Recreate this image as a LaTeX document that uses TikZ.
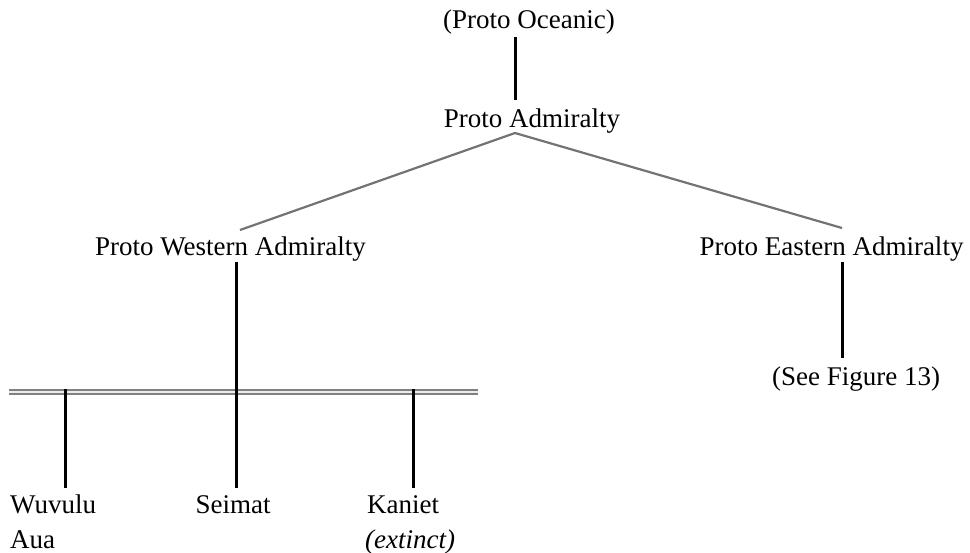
\documentclass[tikz,border=0pt]{standalone}
\usepackage{fontspec}
\setmainfont{Liberation Serif}
\begin{document}
\begin{tikzpicture}[x=1pt,y=-1pt,
  lbl/.style={inner sep=0pt, anchor=base, font=\fontsize{27}{32}\selectfont},
  stem/.style={line width=3pt, black},
  branch/.style={line width=2.2pt, black!55},
  band/.style={draw=black!50, line width=2.4pt, double=black!8, double distance=1.3pt}]
\useasboundingbox (0,0) rectangle (970,552);

% language labels
\node[lbl] (oce)  at (529,28)  {(Proto Oceanic)};
\node[lbl] (adm)  at (532,127) {Proto Admiralty};
\node[lbl] (wadm) at (230.5,255) {Proto Western Admiralty};
\node[lbl] (eadm) at (831.5,255) {Proto Eastern Admiralty};
\node[lbl] (fig)  at (856,385) {(See Figure 13)};
\node[lbl, anchor=base west] (wuv) at (10,513)  {Wuvulu};
\node[lbl, anchor=base west] (aua) at (10,548)  {Aua};
\node[lbl] (sei) at (233,513) {Seimat};
\node[lbl, anchor=base west] (kan) at (367,513) {Kaniet};
\node[lbl, anchor=base west] (ext) at (365,548) {\textit{(extinct)}};

% connector end points
\coordinate (oce-s) at (515,37);
\coordinate (adm-n) at (515,100);
\coordinate (apex)  at (515,133);
\coordinate (wl)    at (240,230);
\coordinate (el)    at (842,228);
\coordinate (w-top) at (236,262);
\coordinate (w-bot) at (236,488);
\coordinate (e-top) at (842,262);
\coordinate (e-bot) at (842,358);
\coordinate (band-w) at (9,392);
\coordinate (band-e) at (478,392);
\coordinate (wuv-top) at (65,389);
\coordinate (wuv-bot) at (65,488);
\coordinate (kan-top) at (413,389);
\coordinate (kan-bot) at (413,488);

% subgroup band
\draw[band] (band-w) -- (band-e);

% tree
\draw[stem] (oce-s) -- (adm-n);
\draw[branch] (wl) -- (apex) -- (el);
\draw[stem] (w-top) -- (w-bot);
\draw[stem] (e-top) -- (e-bot);
\draw[stem] (wuv-top) -- (wuv-bot);
\draw[stem] (kan-top) -- (kan-bot);
\end{tikzpicture}
\end{document}
